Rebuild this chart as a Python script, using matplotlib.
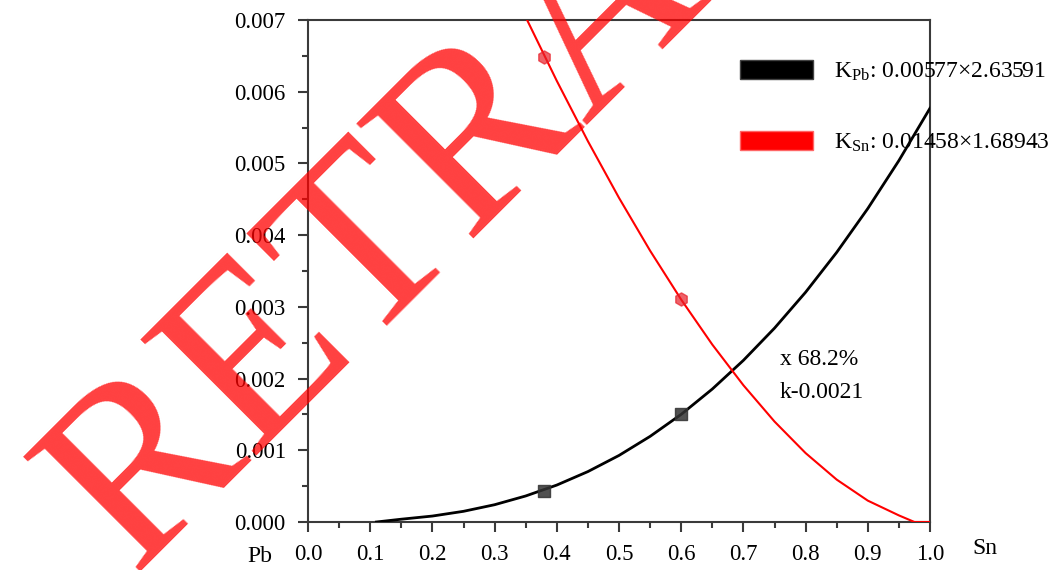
import matplotlib
matplotlib.use("Agg")
from matplotlib import pyplot as plt
from matplotlib.patches import Patch
from matplotlib.ticker import MultipleLocator

# fitted curves, values
pb_x = [0.11, 0.15, 0.20, 0.25, 0.30, 0.35, 0.40, 0.45, 0.50, 0.55, 0.60,
        0.65, 0.70, 0.75, 0.80, 0.85, 0.90, 0.95, 1.00]
pb_y = [0.0, 0.000039, 0.000083, 0.000149, 0.000241, 0.000363, 0.000515, 0.000703,
        0.000928, 0.001194, 0.001501, 0.001854, 0.002254, 0.002703, 0.003204,
        0.003760, 0.004371, 0.005040, 0.005770]

sn_x = [0.35, 0.40, 0.45, 0.50, 0.55, 0.60, 0.65, 0.70, 0.75, 0.80, 0.85,
        0.90, 0.95, 0.975, 1.00]
sn_y = [0.00704, 0.006151, 0.005310, 0.004520, 0.003783, 0.003101, 0.002474,
        0.001907, 0.001401, 0.000961, 0.000591, 0.000298, 0.000092, 0.0, 0.0]

# measured points
pts_x = [0.38, 0.60]
pb_pts = [0.00043, 0.00150]
sn_pts = [0.00649, 0.00311]

legend_labels = [r"K$\mathregular{_{Pb}}$: 0.00577×2.63591",
                 r"K$\mathregular{_{Sn}}$: 0.01458×1.68943"]

plt.rcParams["font.family"] = ["Liberation Serif", "DejaVu Serif"]
plt.rcParams["mathtext.fontset"] = "custom"
plt.rcParams["mathtext.rm"] = "Liberation Serif"

fig = plt.figure(figsize=(10.52, 5.70), dpi=100)
ax = fig.add_axes([308 / 1052, 48 / 570, 622 / 1052, 502 / 570])

ax.plot(pb_x, pb_y, color="black", lw=2.0, zorder=3)
ax.plot(sn_x, sn_y, color="red", lw=1.5, zorder=3)
ax.scatter(pts_x, pb_pts, marker="s", s=70, color="#333333", alpha=0.85, zorder=4)
ax.scatter(pts_x, sn_pts, marker="h", s=90, color="#e8202a", alpha=0.7, zorder=4)

ax.set_xlim(0, 1)
ax.set_ylim(0, 0.007)
ax.xaxis.set_major_locator(MultipleLocator(0.1))
ax.xaxis.set_minor_locator(MultipleLocator(0.05))
ax.yaxis.set_major_locator(MultipleLocator(0.001))
ax.yaxis.set_minor_locator(MultipleLocator(0.0005))
ax.xaxis.set_major_formatter(lambda v, p: f"{v:.1f}")
ax.yaxis.set_major_formatter(lambda v, p: f"{v:.3f}")

for s in ax.spines.values():
    s.set_color("#3a3a3a")
    s.set_linewidth(1.5)
ax.tick_params(which="major", direction="out", length=7, width=1.5,
               color="#3a3a3a", labelsize=16.5)
ax.tick_params(which="minor", direction="out", length=4, width=1.5, color="#3a3a3a")
ax.tick_params(axis="x", pad=9)
ax.tick_params(axis="y", pad=9)

handles = [Patch(facecolor="black", edgecolor="#444444"),
           Patch(facecolor="red", edgecolor="#ff6666")]
ax.legend(handles, legend_labels, loc="upper left",
          bbox_to_anchor=(740 / 1052, 1 - 60 / 570), bbox_transform=fig.transFigure,
          frameon=False, fontsize=17, handlelength=3.1, handleheight=0.85,
          labelspacing=2.05, handletextpad=0.9, borderpad=0, borderaxespad=0)

ax.text(0.759, 0.00226, "x 68.2%", fontsize=17, va="center")
ax.text(0.759, 0.00181, "k-0.0021", fontsize=17, va="center")

fig.text(260 / 1052, 1 - 556 / 570, "Pb", fontsize=17, ha="center", va="center")
fig.text(985 / 1052, 1 - 548 / 570, "Sn", fontsize=17, ha="center", va="center")

# retraction watermark
fig.text(132 / 1052, -3 / 570, "RETRACTED", fontsize=180, color="red", alpha=0.75,
         rotation=45, rotation_mode="anchor", ha="left", va="baseline", zorder=10)

fig.savefig("out.png", dpi=100)
